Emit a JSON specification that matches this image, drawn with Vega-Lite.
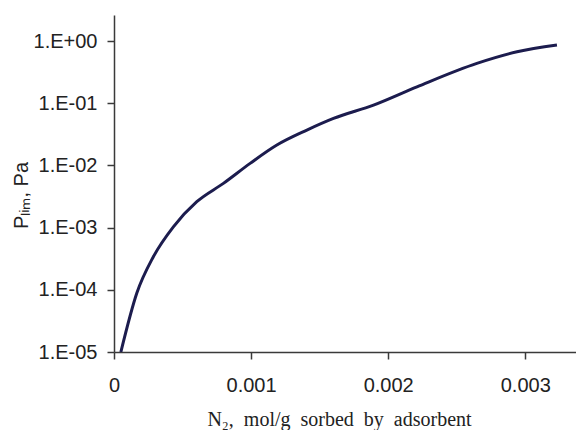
{
  "$schema": "https://vega.github.io/schema/vega-lite/v6.json",
  "autosize": {"type": "none"},
  "padding": {"left": 114, "top": 15, "right": 0, "bottom": 78},
  "width": 462,
  "height": 337,
  "background": "white",
  "config": {"view": {"stroke": null}},
  "data": {"values": [
    {"N": 0.00005, "P": 0.00001},
    {"N": 0.000166, "P": 0.000088},
    {"N": 0.000287, "P": 0.00034},
    {"N": 0.000433, "P": 0.00103},
    {"N": 0.000604, "P": 0.00261},
    {"N": 0.000798, "P": 0.00515},
    {"N": 0.000993, "P": 0.0108},
    {"N": 0.001188, "P": 0.0213},
    {"N": 0.001407, "P": 0.0371},
    {"N": 0.001601, "P": 0.0571},
    {"N": 0.001893, "P": 0.0935},
    {"N": 0.00221, "P": 0.184},
    {"N": 0.002647, "P": 0.438},
    {"N": 0.00294, "P": 0.673},
    {"N": 0.003231, "P": 0.863}
  ]},
  "mark": {"type": "line", "color": "#1c1c4e", "strokeWidth": 3, "interpolate": "monotone", "clip": true},
  "encoding": {
    "x": {
      "field": "N", "type": "quantitative",
      "scale": {"domain": [0, 0.00337], "nice": false, "zero": false},
      "axis": {
        "values": [0, 0.001, 0.002, 0.003],
        "format": ".3~f",
        "grid": false,
        "title": "N\u2082,\u2002mol/g\u2002sorbed\u2002by\u2002adsorbent",
        "titleFont": "Liberation Serif",
        "titleFontSize": 20,
        "titleFontWeight": "normal",
        "titleColor": "#222",
        "titlePadding": 14,
        "titleX": 225,
        "labelFont": "Liberation Sans",
        "labelFontSize": 20,
        "labelColor": "#222",
        "labelPadding": 16,
        "labelFlush": false,
        "tickSize": 7,
        "tickColor": "#3a3a3a",
        "tickWidth": 1.5,
        "domainColor": "#3a3a3a",
        "domainWidth": 1.5
      }
    },
    "y": {
      "field": "P", "type": "quantitative",
      "scale": {"type": "log", "domain": [0.00001, 2.63], "nice": false},
      "axis": {
        "values": [0.00001, 0.0001, 0.001, 0.01, 0.1, 1],
        "labelExpr": "'1.E' + (round(log(datum.value)/LN10) >= 0 ? '+' : '-') + (abs(round(log(datum.value)/LN10)) < 10 ? '0' : '') + abs(round(log(datum.value)/LN10))",
        "grid": false,
        "title": "Pₗᵢₘ, Pa",
        "titleFont": "Liberation Sans",
        "titleFontSize": 20,
        "titleFontWeight": "normal",
        "titleColor": "#222",
        "titlePadding": 2,
        "titleY": 180,
        "labelFont": "Liberation Sans",
        "labelFontSize": 20,
        "labelColor": "#222",
        "labelPadding": 10,
        "labelFlush": false,
        "tickSize": 7,
        "tickColor": "#3a3a3a",
        "tickWidth": 1.5,
        "domainColor": "#3a3a3a",
        "domainWidth": 1.5
      }
    }
  }
}
